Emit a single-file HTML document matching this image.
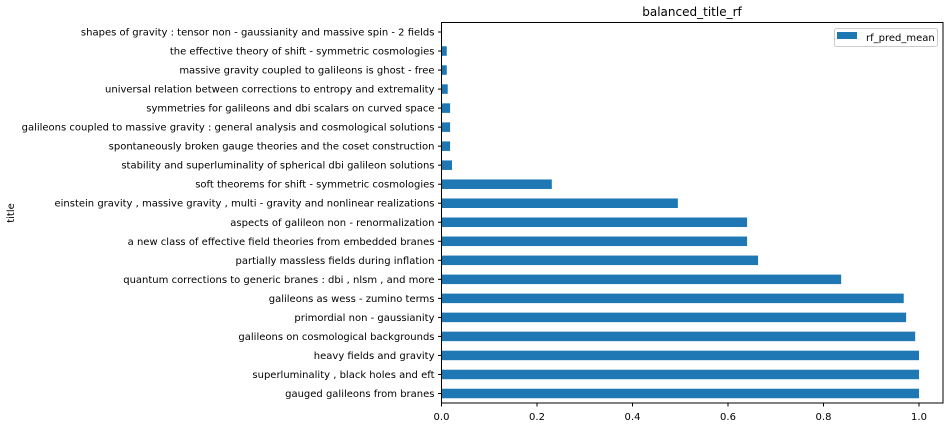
<!DOCTYPE html>
<html><head><meta charset="utf-8"><style>
html,body{margin:0;padding:0;background:#fff;}
svg text{font-family:"DejaVu Sans","Liberation Sans",sans-serif;font-size:10px;fill:#000;}
</style></head><body>
<svg id="chart" width="950" height="427" xmlns="http://www.w3.org/2000/svg">
<text x="692" y="16" text-anchor="middle" style="font-size:12px">balanced_title_rf</text>
<text transform="translate(14,213) rotate(-90)" text-anchor="middle">title</text>
<g id="bars"></g><g id="yticks"></g><g id="xticks"></g>
<rect x="441.5" y="22.5" width="501.5" height="380.5" fill="none" stroke="#000" stroke-width="1"/>
<g>
<rect x="834.5" y="28.5" width="103" height="18" rx="2" fill="#fff" stroke="#ccc"/>
<rect x="837" y="32" width="20" height="7" fill="#1f77b4"/>
<text x="866" y="41">rf_pred_mean</text>
</g>
</svg>
<script>
const categories = ["gauged galileons from branes","superluminality , black holes and eft","heavy fields and gravity","galileons on cosmological backgrounds","primordial non - gaussianity","galileons as wess - zumino terms","quantum corrections to generic branes : dbi , nlsm , and more","partially massless fields during inflation","a new class of effective field theories from embedded branes","aspects of galileon non - renormalization","einstein gravity , massive gravity , multi - gravity and nonlinear realizations","soft theorems for shift - symmetric cosmologies","stability and superluminality of spherical dbi galileon solutions","spontaneously broken gauge theories and the coset construction","galileons coupled to massive gravity : general analysis and cosmological solutions","symmetries for galileons and dbi scalars on curved space","universal relation between corrections to entropy and extremality","massive gravity coupled to galileons is ghost - free","the effective theory of shift - symmetric cosmologies","shapes of gravity : tensor non - gaussianity and massive spin - 2 fields"];
const values = [1.0,1.0,1.0,0.992,0.973,0.968,0.837,0.663,0.640,0.640,0.495,0.231,0.022,0.018,0.018,0.018,0.013,0.011,0.011,0.0005];
const xTicks = [0,0.2,0.4,0.6,0.8,1.0];
const xTickLabels = ["0.0","0.2","0.4","0.6","0.8","1.0"];
const NS="http://www.w3.org/2000/svg";
const x0=441.5, xs=477.5, plotTop=22.5, plotBottom=403;
const n=categories.length, step=(plotBottom-plotTop)/n;
const X=v=>x0+v*xs;
const Y=i=>plotBottom-(i+0.5)*step;
const bars=document.getElementById('bars'), yt=document.getElementById('yticks'), xt=document.getElementById('xticks');
categories.forEach((c,i)=>{
  const r=document.createElementNS(NS,'rect');
  r.setAttribute('x',X(0)); r.setAttribute('y',Y(i)-step*0.25);
  r.setAttribute('width',Math.max(0,X(values[i])-X(0))); r.setAttribute('height',step*0.5);
  r.setAttribute('fill','#1f77b4');
  
  
  bars.appendChild(r);
  const l=document.createElementNS(NS,'line');
  l.setAttribute('x1',x0-3.5); l.setAttribute('x2',x0); l.setAttribute('y1',Y(i)); l.setAttribute('y2',Y(i)); l.setAttribute('stroke','#000');
  
  
  yt.appendChild(l);
  const t=document.createElementNS(NS,'text');
  t.setAttribute('x',x0-7); t.setAttribute('y',Y(i)+3.5); t.setAttribute('text-anchor','end');
  t.textContent=c;
  
  
  yt.appendChild(t);
});
xTicks.forEach((v,i)=>{
  const l=document.createElementNS(NS,'line');
  l.setAttribute('x1',X(v)); l.setAttribute('x2',X(v)); l.setAttribute('y1',plotBottom); l.setAttribute('y2',plotBottom+3.5); l.setAttribute('stroke','#000');
  
  
  xt.appendChild(l);
  const t=document.createElementNS(NS,'text');
  t.setAttribute('x',X(v)); t.setAttribute('y',plotBottom+17); t.setAttribute('text-anchor','middle');
  t.textContent=xTickLabels[i];
  
  
  xt.appendChild(t);
});
</script>
</body></html>
